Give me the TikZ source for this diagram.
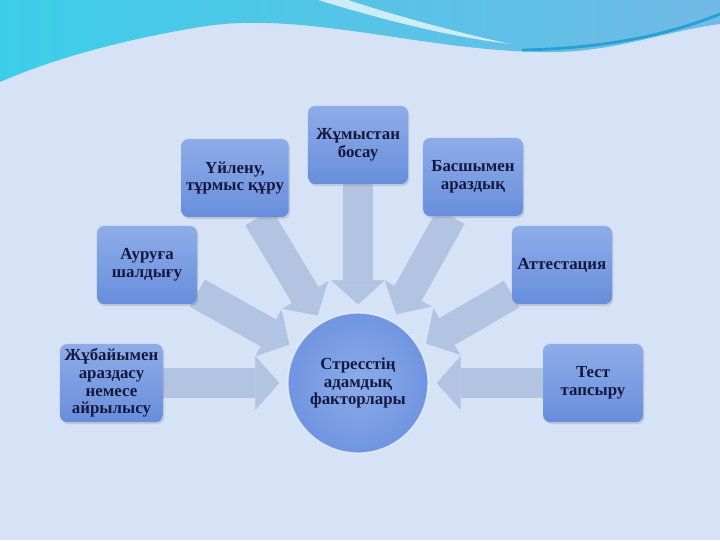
\documentclass[tikz,border=0pt]{standalone}
\usepackage{fontspec}
\setmainfont{Liberation Serif}
\usetikzlibrary{positioning, arrows.meta, shadows}
\pgfdeclarelayer{bg}
\pgfdeclarelayer{back}
\pgfsetlayers{bg,back,main}
\definecolor{boxtop}{RGB}{142,172,232}
\definecolor{boxbot}{RGB}{104,142,220}
\definecolor{txtnavy}{RGB}{22,24,64}
\definecolor{arrowgray}{RGB}{178,196,226}
\definecolor{paper}{RGB}{214,226,245}
\definecolor{waveL}{RGB}{60,206,232}
\definecolor{waveR}{RGB}{112,186,230}
\definecolor{waveDeep}{RGB}{40,160,212}
\definecolor{hubin}{RGB}{140,172,234}
\definecolor{hubout}{RGB}{112,148,224}

\tikzset{
  factor/.style={rounded corners=5pt, top color=boxtop, bottom color=boxbot,
    minimum width=2.5cm, minimum height=1.95cm, align=center, text=txtnavy,
    font=\bfseries\fontsize{12}{12.5}\selectfont,
    drop shadow={opacity=0.25, shadow xshift=1pt, shadow yshift=-1.5pt}},
  hub/.style={circle, minimum size=3.5cm, inner color=hubin, outer color=hubout,
    draw=white, draw opacity=0.6, line width=1pt, align=center, text=txtnavy,
    font=\bfseries\fontsize{12}{12.5}\selectfont},
  push/.style={line width=22pt, arrowgray,
    -{Triangle[length=17pt, width=38pt, line width=0.1pt]}, shorten >=0.2cm}
}

\begin{document}
\begin{tikzpicture}[x=0.025cm, y=-0.025cm]
    \useasboundingbox (0,0) rectangle (720,540);

    % Nodes
    \node[hub] (c) at (358,383) {Стресстің\\адамдық\\факторлары};
    \node[factor, above=3.2cm of c] (jum) {Жұмыстан\\босау};
    \node[factor, left=3.1cm of c] (jub) {Жұбайымен\\араздасу\\немесе\\айрылысу};
    \node[factor, right=2.85cm of c] (test) {Тест\\тапсыру};
    \node[factor] (uy) at (235,178) {Үйлену,\\тұрмыс құру};
    \node[factor] (bas) at (473,177) {Басшымен\\араздық};
    \node[factor] (aur) at (147,265) {Ауруға\\шалдығу};
    \node[factor] (att) at (562,265) {Аттестация};

    % Paths
    \begin{pgfonlayer}{back}
    \draw[push] (uy) -- (c);
    \draw[push] (jum) -- (c);
    \draw[push] (bas) -- (c);
    \draw[push] (aur) -- (c);
    \draw[push] (att) -- (c);
    \draw[push] (jub) -- (c);
    \draw[push] (test) -- (c);
    \end{pgfonlayer}

    % Backdrop
    \begin{pgfonlayer}{bg}
    \fill[paper] (0,0) rectangle (720,540);
    \shade[left color=waveL, right color=waveR] (0,0) -- (720,0) -- (720,24)
        .. controls (660,32) and (610,54) .. (540,52)
        .. controls (420,50) and (300,10) .. (200,27)
        .. controls (120,40) and (50,60) .. (0,82) -- cycle;
    \fill[white, opacity=0.7] (318,0) .. controls (400,25) and (460,38) .. (510,44)
        .. controls (455,32) and (390,14) .. (348,0) -- cycle;
    \draw[waveDeep, line width=2pt] (522,50) .. controls (620,48) and (680,30) .. (720,14);
    \end{pgfonlayer}
\end{tikzpicture}
\end{document}
